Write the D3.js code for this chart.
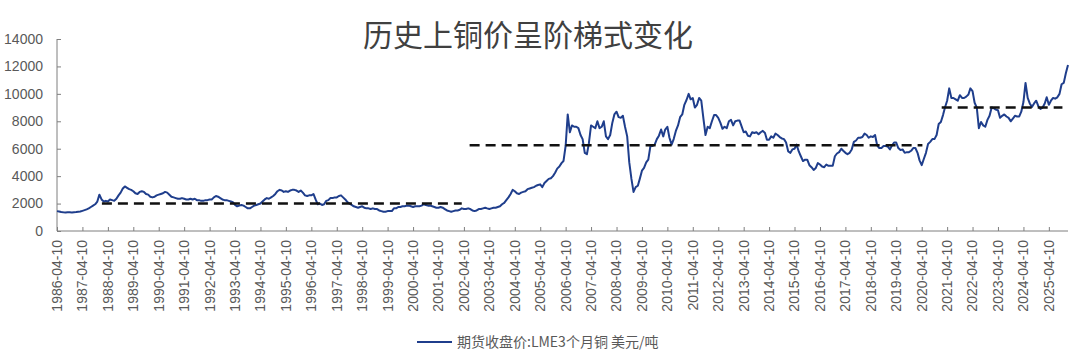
<!DOCTYPE html>
<html lang="zh">
<head>
    <meta charset="utf-8">
    <title>历史上铜价呈阶梯式变化</title>
    <script src="https://d3js.org/d3.v7.min.js" charset="utf-8"></script>
    <style>
        body { margin: 0; background: #fff; }
        text { font-family: "Liberation Sans", Arial, sans-serif; }
    </style>
</head>
<body>
<script>
// monthly LME 3M copper close, USD/t, from 1986-04 to 2026-01
var startYear = 1986, startMonth = 3
var prices = [
    1450,1420,1380,1360,1350,1370,1360,1350,1370,
    1380,1400,1420,1470,1520,1580,1650,1750,1850,1950,2150,2650,
    2300,2150,2200,2150,2300,2250,2200,2350,2600,2800,3100,3250,
    3150,3050,3000,2900,2750,2700,2850,2900,2850,2700,2650,2500,
    2450,2500,2600,2650,2700,2750,2850,2800,2650,2500,2450,2400,
    2350,2350,2400,2350,2300,2300,2350,2300,2350,2250,2250,2200,
    2200,2250,2250,2300,2300,2450,2550,2500,2400,2300,2250,2250,
    2200,2150,2100,1900,1800,1850,1900,1850,1750,1650,1650,1750,
    1850,1900,1950,2000,2150,2300,2400,2350,2450,2550,2700,2900,
    3000,2950,2850,2900,2850,2950,3000,3000,2950,2850,2950,2800,
    2600,2550,2600,2600,2700,2300,1950,2000,1900,1950,2200,2250,
    2400,2400,2450,2450,2550,2600,2450,2300,2100,2000,1900,1800,
    1750,1700,1750,1800,1700,1650,1650,1600,1650,1600,1600,1500,
    1450,1400,1400,1450,1450,1450,1650,1650,1750,1750,1800,1800,
    1850,1850,1800,1750,1800,1800,1800,1850,1950,1900,1850,1850,
    1800,1750,1700,1700,1750,1700,1600,1500,1450,1400,1450,1500,
    1500,1550,1650,1600,1600,1650,1600,1500,1450,1500,1600,1600,
    1650,1700,1650,1600,1650,1700,1700,1750,1800,1950,2050,2250,
    2450,2700,3000,2900,2750,2700,2800,2850,2900,3050,3100,3150,
    3200,3300,3350,3400,3200,3500,3650,3800,3850,4000,4250,4550,
    4700,4950,5100,6200,8500,7200,7700,7600,7600,7500,7000,6700,
    5700,5600,6400,7700,7600,7500,8000,7500,7600,8000,6900,6700,
    7000,7900,8500,8700,8300,8250,8400,7600,6900,5000,3800,2850,
    3200,3300,3800,4400,4600,5000,5200,6200,6200,6300,6700,6950,
    7400,6900,7400,7600,6800,6300,6700,7300,7700,8300,8500,9200,
    9550,10000,9600,9700,9000,9200,9700,9500,8200,7000,7600,7500,
    8000,8450,8450,8250,7900,7450,7600,7500,8000,8100,7700,8000,
    8050,8050,7650,7200,7250,6950,6900,7200,7150,7200,7050,7200,
    7300,7150,6650,6650,6900,6800,7100,7000,6850,6750,6700,6450,
    5800,5700,5950,6000,6300,5800,5450,5100,5200,5200,4800,4650,
    4450,4600,4950,4850,4700,4650,4850,4750,4750,4750,5450,5650,
    5750,6000,5850,5700,5600,5700,5950,6500,6600,6800,6800,6850,
    7100,7000,6800,6900,6850,7000,6250,6050,6050,6200,6200,6150,
    5950,6250,6450,6450,6050,5900,5950,5700,5750,5750,5850,6050,
    6050,5700,5150,4800,5250,5700,6350,6500,6700,6700,7000,7800,
    7950,8450,9000,9500,10400,9700,9700,9600,9500,9900,9700,9700,
    9800,9950,10400,10200,9350,9000,7500,7950,7700,7600,8100,8400,
    9000,8950,8850,8800,8250,8400,8500,8350,8250,8000,8200,8400,
    8350,8350,8700,9400,10800,9700,9300,9050,9300,9500,9100,8900,
    9000,9300,9750,9200,9500,9700,9650,9750,10000,10700,10800,11500,
    12100
]

// stage averages (dashed lines)
var stageStart = ["1988-01-15", "2002-07-01", "2021-01-22"]
var stageEnd   = ["2002-03-10", "2020-04-20", "2025-10-22"]
var stageValue = [2000, 6250, 9000]

var yTicks = [0, 2000, 4000, 6000, 8000, 10000, 12000, 14000]
var tickYears = d3.range(1986, 2026)

var seriesName = "期货收盘价:LME3个月铜 美元/吨"
var title = "历史上铜价呈阶梯式变化"

var w = 1080, h = 363
var padL = 57, padR = 1068, padT = 39, padB = 231

var data = prices.map(function(v, i) {
    return {date: new Date(startYear, startMonth + i, 10), value: v}
})
var parse = d3.timeParse("%Y-%m-%d")

var x = d3.scaleTime()
    .domain([new Date(1986, 3, 10), data[data.length - 1].date])
    .range([padL, padR])
var y = d3.scaleLinear().domain([0, 14000]).range([padB, padT])

var svg = d3.select("body").append("svg").attr("width", w).attr("height", h)

svg.append("text").attr("x", 528).attr("y", 46).attr("text-anchor", "middle")
    .style("font-family", "'Noto Sans CJK SC', sans-serif").style("font-size", "30px")
    .attr("fill", "#404040").text(title)

// y axis
var yAxis = svg.append("g").attr("transform", "translate(" + padL + ",0)")
    .call(d3.axisRight(y).tickValues(yTicks).tickSize(4).tickFormat(""))
yAxis.select(".domain").attr("stroke", "#7f7f7f").attr("d", "M0," + padT + "V" + padB)
yAxis.selectAll(".tick line").attr("stroke", "#7f7f7f")
svg.append("g").selectAll("text").data(yTicks).enter().append("text")
    .attr("x", 43).attr("y", function(d) { return y(d) }).attr("dy", "0.35em")
    .attr("text-anchor", "end").style("font-size", "14px").attr("fill", "#595959")
    .text(function(d) { return d })

// x axis
var tickDates = tickYears.map(function(yr) { return new Date(yr, 3, 10) })
var xAxis = svg.append("g").attr("transform", "translate(0," + padB + ")")
    .call(d3.axisTop(x).tickValues(tickDates).tickSize(4).tickFormat(""))
xAxis.select(".domain").attr("stroke", "#7f7f7f").attr("d", "M" + padL + ",0H" + padR)
xAxis.selectAll(".tick line").attr("stroke", "#7f7f7f")
svg.append("g").selectAll("text").data(tickDates).enter().append("text")
    .attr("transform", function(d) { return "translate(" + x(d) + ",240) rotate(-90)" })
    .attr("dy", "0.35em").attr("text-anchor", "end")
    .style("font-size", "14px").attr("fill", "#595959")
    .text(d3.timeFormat("%Y-%m-%d"))

// price line
var line = d3.line()
    .x(function(d) { return x(d.date) })
    .y(function(d) { return y(d.value) })
svg.append("path").datum(data).attr("d", line)
    .attr("fill", "none").attr("stroke", "#1f3e8c").attr("stroke-width", 2)
    .attr("stroke-linejoin", "round")

// stage lines
svg.append("g").selectAll("line").data(stageValue).enter().append("line")
    .attr("x1", function(d, i) { return x(parse(stageStart[i])) })
    .attr("x2", function(d, i) { return x(parse(stageEnd[i])) })
    .attr("y1", function(d) { return y(d) })
    .attr("y2", function(d) { return y(d) })
    .attr("stroke", "#111").attr("stroke-width", 2.5).attr("stroke-dasharray", "10,6")

// legend
svg.append("line").attr("x1", 417).attr("x2", 452).attr("y1", 342).attr("y2", 342)
    .attr("stroke", "#1f3e8c").attr("stroke-width", 2)
svg.append("text").attr("x", 457).attr("y", 342).attr("dy", "0.35em")
    .style("font-family", "'Noto Sans CJK SC', sans-serif").style("font-size", "14px")
    .attr("fill", "#595959").text(seriesName)
</script>
</body>
</html>
